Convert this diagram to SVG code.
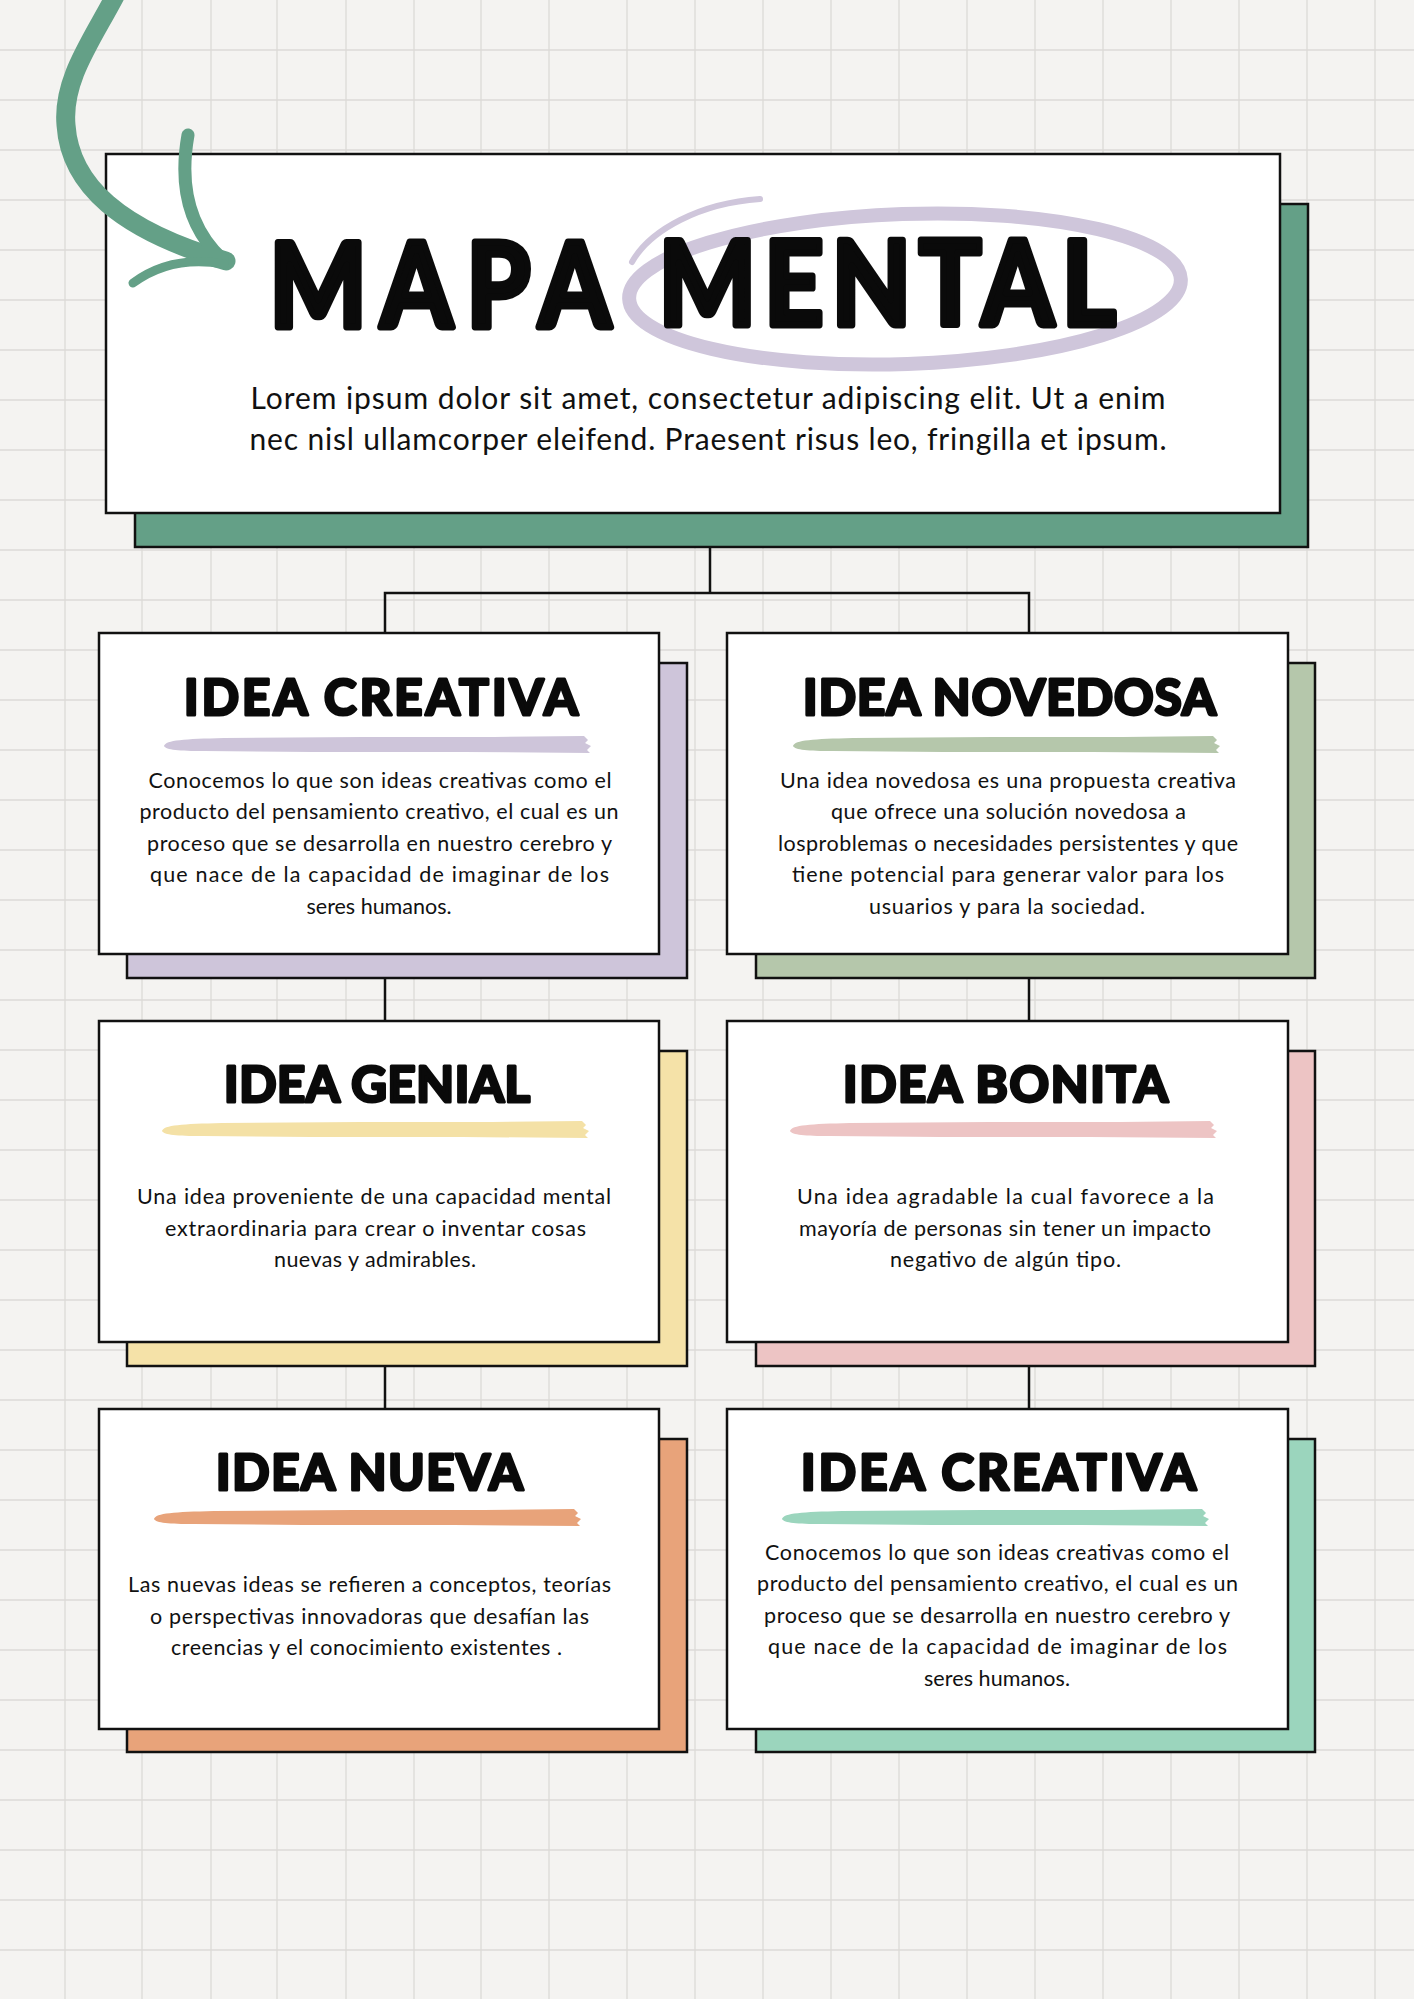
<svg xmlns="http://www.w3.org/2000/svg" xmlns:xlink="http://www.w3.org/1999/xlink" width="1414" height="1999" viewBox="0 0 1414 1999">
  <style>
    .grid line { stroke: #DCDAD7; stroke-width: 1.3; }
    .box { fill: #FFFFFF; stroke: #111111; stroke-width: 2.5; }
    .shadow { stroke: #111111; stroke-width: 2.5; }
    .conn { stroke: #111111; stroke-width: 2.5; fill: none; }
    .head { font-family: Lato, "Open Sans", "DejaVu Sans", sans-serif; font-weight: 700; fill: #0A0A0A; stroke: #0A0A0A; stroke-linejoin: round; text-anchor: middle; }
    .h1 { font-size: 117px; stroke-width: 7; }
    .h2 { font-size: 49px; stroke-width: 3.2; }
    .body { font-family: Lato, "Noto Sans", "DejaVu Sans", sans-serif; font-size: 21.5px; fill: #111111; text-anchor: middle; }
    .sub { font-family: Lato, "Noto Sans", "DejaVu Sans", sans-serif; font-size: 30px; fill: #111111; text-anchor: middle; }
    .arrow { fill: none; stroke: #64A087; stroke-linecap: round; stroke-linejoin: round; }
  </style>
  <defs>
    <path id="brush" d="M 0 1 C 2 -5 20 -6 60 -7 L 200 -8 L 330 -8 L 420 -9 L 424 -5 L 421 -2 L 427 1 L 423 5 L 426 8 L 300 7 L 150 7 L 40 6 C 15 6 2 5 0 1 Z"/>
  </defs>

  <!-- background -->
  <rect x="0" y="0" width="1414" height="1999" fill="#F4F3F1"/>
  <g class="grid">
    <line x1="65" y1="0" x2="65" y2="1999"/>
    <line x1="142" y1="0" x2="142" y2="1999"/>
    <line x1="211" y1="0" x2="211" y2="1999"/>
    <line x1="277" y1="0" x2="277" y2="1999"/>
    <line x1="346" y1="0" x2="346" y2="1999"/>
    <line x1="414" y1="0" x2="414" y2="1999"/>
    <line x1="481" y1="0" x2="481" y2="1999"/>
    <line x1="549" y1="0" x2="549" y2="1999"/>
    <line x1="627" y1="0" x2="627" y2="1999"/>
    <line x1="695" y1="0" x2="695" y2="1999"/>
    <line x1="763" y1="0" x2="763" y2="1999"/>
    <line x1="831" y1="0" x2="831" y2="1999"/>
    <line x1="899" y1="0" x2="899" y2="1999"/>
    <line x1="967" y1="0" x2="967" y2="1999"/>
    <line x1="1035" y1="0" x2="1035" y2="1999"/>
    <line x1="1103" y1="0" x2="1103" y2="1999"/>
    <line x1="1171" y1="0" x2="1171" y2="1999"/>
    <line x1="1239" y1="0" x2="1239" y2="1999"/>
    <line x1="1307" y1="0" x2="1307" y2="1999"/>
    <line x1="1375" y1="0" x2="1375" y2="1999"/>
    <line x1="0" y1="50" x2="1414" y2="50"/>
    <line x1="0" y1="100" x2="1414" y2="100"/>
    <line x1="0" y1="150" x2="1414" y2="150"/>
    <line x1="0" y1="200" x2="1414" y2="200"/>
    <line x1="0" y1="250" x2="1414" y2="250"/>
    <line x1="0" y1="300" x2="1414" y2="300"/>
    <line x1="0" y1="350" x2="1414" y2="350"/>
    <line x1="0" y1="400" x2="1414" y2="400"/>
    <line x1="0" y1="450" x2="1414" y2="450"/>
    <line x1="0" y1="500" x2="1414" y2="500"/>
    <line x1="0" y1="550" x2="1414" y2="550"/>
    <line x1="0" y1="600" x2="1414" y2="600"/>
    <line x1="0" y1="650" x2="1414" y2="650"/>
    <line x1="0" y1="700" x2="1414" y2="700"/>
    <line x1="0" y1="750" x2="1414" y2="750"/>
    <line x1="0" y1="800" x2="1414" y2="800"/>
    <line x1="0" y1="850" x2="1414" y2="850"/>
    <line x1="0" y1="900" x2="1414" y2="900"/>
    <line x1="0" y1="950" x2="1414" y2="950"/>
    <line x1="0" y1="1000" x2="1414" y2="1000"/>
    <line x1="0" y1="1050" x2="1414" y2="1050"/>
    <line x1="0" y1="1100" x2="1414" y2="1100"/>
    <line x1="0" y1="1150" x2="1414" y2="1150"/>
    <line x1="0" y1="1200" x2="1414" y2="1200"/>
    <line x1="0" y1="1250" x2="1414" y2="1250"/>
    <line x1="0" y1="1300" x2="1414" y2="1300"/>
    <line x1="0" y1="1350" x2="1414" y2="1350"/>
    <line x1="0" y1="1400" x2="1414" y2="1400"/>
    <line x1="0" y1="1450" x2="1414" y2="1450"/>
    <line x1="0" y1="1500" x2="1414" y2="1500"/>
    <line x1="0" y1="1550" x2="1414" y2="1550"/>
    <line x1="0" y1="1600" x2="1414" y2="1600"/>
    <line x1="0" y1="1650" x2="1414" y2="1650"/>
    <line x1="0" y1="1700" x2="1414" y2="1700"/>
    <line x1="0" y1="1750" x2="1414" y2="1750"/>
    <line x1="0" y1="1800" x2="1414" y2="1800"/>
    <line x1="0" y1="1850" x2="1414" y2="1850"/>
    <line x1="0" y1="1900" x2="1414" y2="1900"/>
    <line x1="0" y1="1950" x2="1414" y2="1950"/>
  </g>

  <!-- connectors -->
  <g id="connectors" class="conn">
    <line x1="710" y1="547" x2="710" y2="593"/>
    <polyline points="385,633 385,593 1029,593 1029,633"/>
    <line x1="385" y1="978" x2="385" y2="1021"/>
    <line x1="1029" y1="978" x2="1029" y2="1021"/>
    <line x1="385" y1="1366" x2="385" y2="1409"/>
    <line x1="1029" y1="1366" x2="1029" y2="1409"/>
  </g>

  <!-- title node -->
  <g id="title">
    <rect class="shadow" x="135" y="204" width="1173" height="343" fill="#64A087"/>
    <rect class="box" x="106" y="154" width="1174" height="359"/>
    <ellipse cx="905" cy="289" rx="276" ry="75" transform="rotate(-2 905 289)" fill="none" stroke="#CFC6DB" stroke-width="14"/>
    <path d="M 760 199 C 700 203 650 230 632 262" fill="none" stroke="#CFC6DB" stroke-width="6" stroke-linecap="round"/>
    <text class="head h1" transform="scale(0.88 1)" x="500" y="327" textLength="387.5" lengthAdjust="spacing">MAPA</text>
    <text class="head h1" transform="scale(0.88 1)" x="1008" y="325" textLength="519" lengthAdjust="spacing">MENTAL</text>
    <text class="sub" x="708" y="409" textLength="915">Lorem ipsum dolor sit amet, consectetur adipiscing elit. Ut a enim</text>
    <text class="sub" x="708" y="450" textLength="917">nec nisl ullamcorper eleifend. Praesent risus leo, fringilla et ipsum.</text>
  </g>

  <!-- arrow -->
  <g id="arrow">
    <path class="arrow" stroke-width="19" d="M 115 -4 C 92 40 62 80 66 125 C 70 185 120 230 226 261"/>
    <path class="arrow" stroke-width="13" d="M 188 135 C 180 180 186 225 222 259"/>
    <path class="arrow" stroke-width="9" d="M 224 264 C 190 258 160 263 133 283"/>
  </g>

  <!-- card 1 -->
  <g id="card-creativa-1">
    <rect class="shadow" x="127" y="663" width="560" height="315" fill="#CEC5DA"/>
    <rect class="box" x="99" y="633" width="560" height="321"/>
    <text class="head h2" x="381" y="715" textLength="394" lengthAdjust="spacing">IDEA CREATIVA</text>
    <use href="#brush" x="164" y="745" fill="#CEC5DA"/>
    <text class="body" x="380" y="788" textLength="463">Conocemos lo que son ideas creativas como el</text>
    <text class="body" x="379" y="819" textLength="479">producto del pensamiento creativo, el cual es un</text>
    <text class="body" x="379.5" y="851" textLength="465">proceso que se desarrolla en nuestro cerebro y</text>
    <text class="body" x="379.5" y="882" textLength="459">que nace de la capacidad de imaginar de los</text>
    <text class="body" x="379" y="914" textLength="145">seres humanos.</text>
  </g>

  <!-- card 2 -->
  <g id="card-novedosa">
    <rect class="shadow" x="756" y="663" width="559" height="315" fill="#B5C7AB"/>
    <rect class="box" x="727" y="633" width="561" height="321"/>
    <text class="head h2" x="1009.5" y="715" textLength="413" lengthAdjust="spacing">IDEA NOVEDOSA</text>
    <use href="#brush" x="793" y="745" fill="#B5C7AB"/>
    <text class="body" x="1008" y="788" textLength="456">Una idea novedosa es una propuesta creativa</text>
    <text class="body" x="1008.5" y="819" textLength="355">que ofrece una solución novedosa a</text>
    <text class="body" x="1008" y="851" textLength="460">losproblemas o necesidades persistentes y que</text>
    <text class="body" x="1008" y="882" textLength="432">tiene potencial para generar valor para los</text>
    <text class="body" x="1007" y="914" textLength="276">usuarios y para la sociedad.</text>
  </g>

  <!-- card 3 -->
  <g id="card-genial">
    <rect class="shadow" x="127" y="1051" width="560" height="315" fill="#F5E2A8"/>
    <rect class="box" x="99" y="1021" width="560" height="321"/>
    <text class="head h2" x="377" y="1102" textLength="306" lengthAdjust="spacing">IDEA GENIAL</text>
    <use href="#brush" x="162" y="1130" fill="#F4E1A6"/>
    <text class="body" x="374" y="1204" textLength="474">Una idea proveniente de una capacidad mental</text>
    <text class="body" x="375.5" y="1236" textLength="421">extraordinaria para crear o inventar cosas</text>
    <text class="body" x="375" y="1267" textLength="202">nuevas y admirables.</text>
  </g>

  <!-- card 4 -->
  <g id="card-bonita">
    <rect class="shadow" x="756" y="1051" width="559" height="315" fill="#EDC4C4"/>
    <rect class="box" x="727" y="1021" width="561" height="321"/>
    <text class="head h2" x="1005.5" y="1102" textLength="325" lengthAdjust="spacing">IDEA BONITA</text>
    <use href="#brush" x="790" y="1130" fill="#EDC4C4"/>
    <text class="body" x="1005.5" y="1204" textLength="417">Una idea agradable la cual favorece a la</text>
    <text class="body" x="1005" y="1236" textLength="412">mayoría de personas sin tener un impacto</text>
    <text class="body" x="1005.5" y="1267" textLength="231">negativo de algún tipo.</text>
  </g>

  <!-- card 5 -->
  <g id="card-nueva">
    <rect class="shadow" x="127" y="1439" width="560" height="313" fill="#E8A37A"/>
    <rect class="box" x="99" y="1409" width="560" height="320"/>
    <text class="head h2" x="369.5" y="1490" textLength="307" lengthAdjust="spacing">IDEA NUEVA</text>
    <use href="#brush" x="154" y="1518" fill="#E8A37A"/>
    <text class="body" x="369.5" y="1592" textLength="483">Las nuevas ideas se refieren a conceptos, teorías</text>
    <text class="body" x="369.5" y="1624" textLength="439">o perspectivas innovadoras que desafían las</text>
    <text class="body" x="366.5" y="1655" textLength="391">creencias y el conocimiento existentes .</text>
  </g>

  <!-- card 6 -->
  <g id="card-creativa-2">
    <rect class="shadow" x="756" y="1439" width="559" height="313" fill="#9BD5BD"/>
    <rect class="box" x="727" y="1409" width="561" height="320"/>
    <text class="head h2" x="998.5" y="1490" textLength="395" lengthAdjust="spacing">IDEA CREATIVA</text>
    <use href="#brush" x="782" y="1518" fill="#9BD5BD"/>
    <text class="body" x="997" y="1560" textLength="464">Conocemos lo que son ideas creativas como el</text>
    <text class="body" x="997.5" y="1591" textLength="481">producto del pensamiento creativo, el cual es un</text>
    <text class="body" x="997" y="1623" textLength="466">proceso que se desarrolla en nuestro cerebro y</text>
    <text class="body" x="997.5" y="1654" textLength="459">que nace de la capacidad de imaginar de los</text>
    <text class="body" x="997" y="1686" textLength="146">seres humanos.</text>
  </g>
</svg>
